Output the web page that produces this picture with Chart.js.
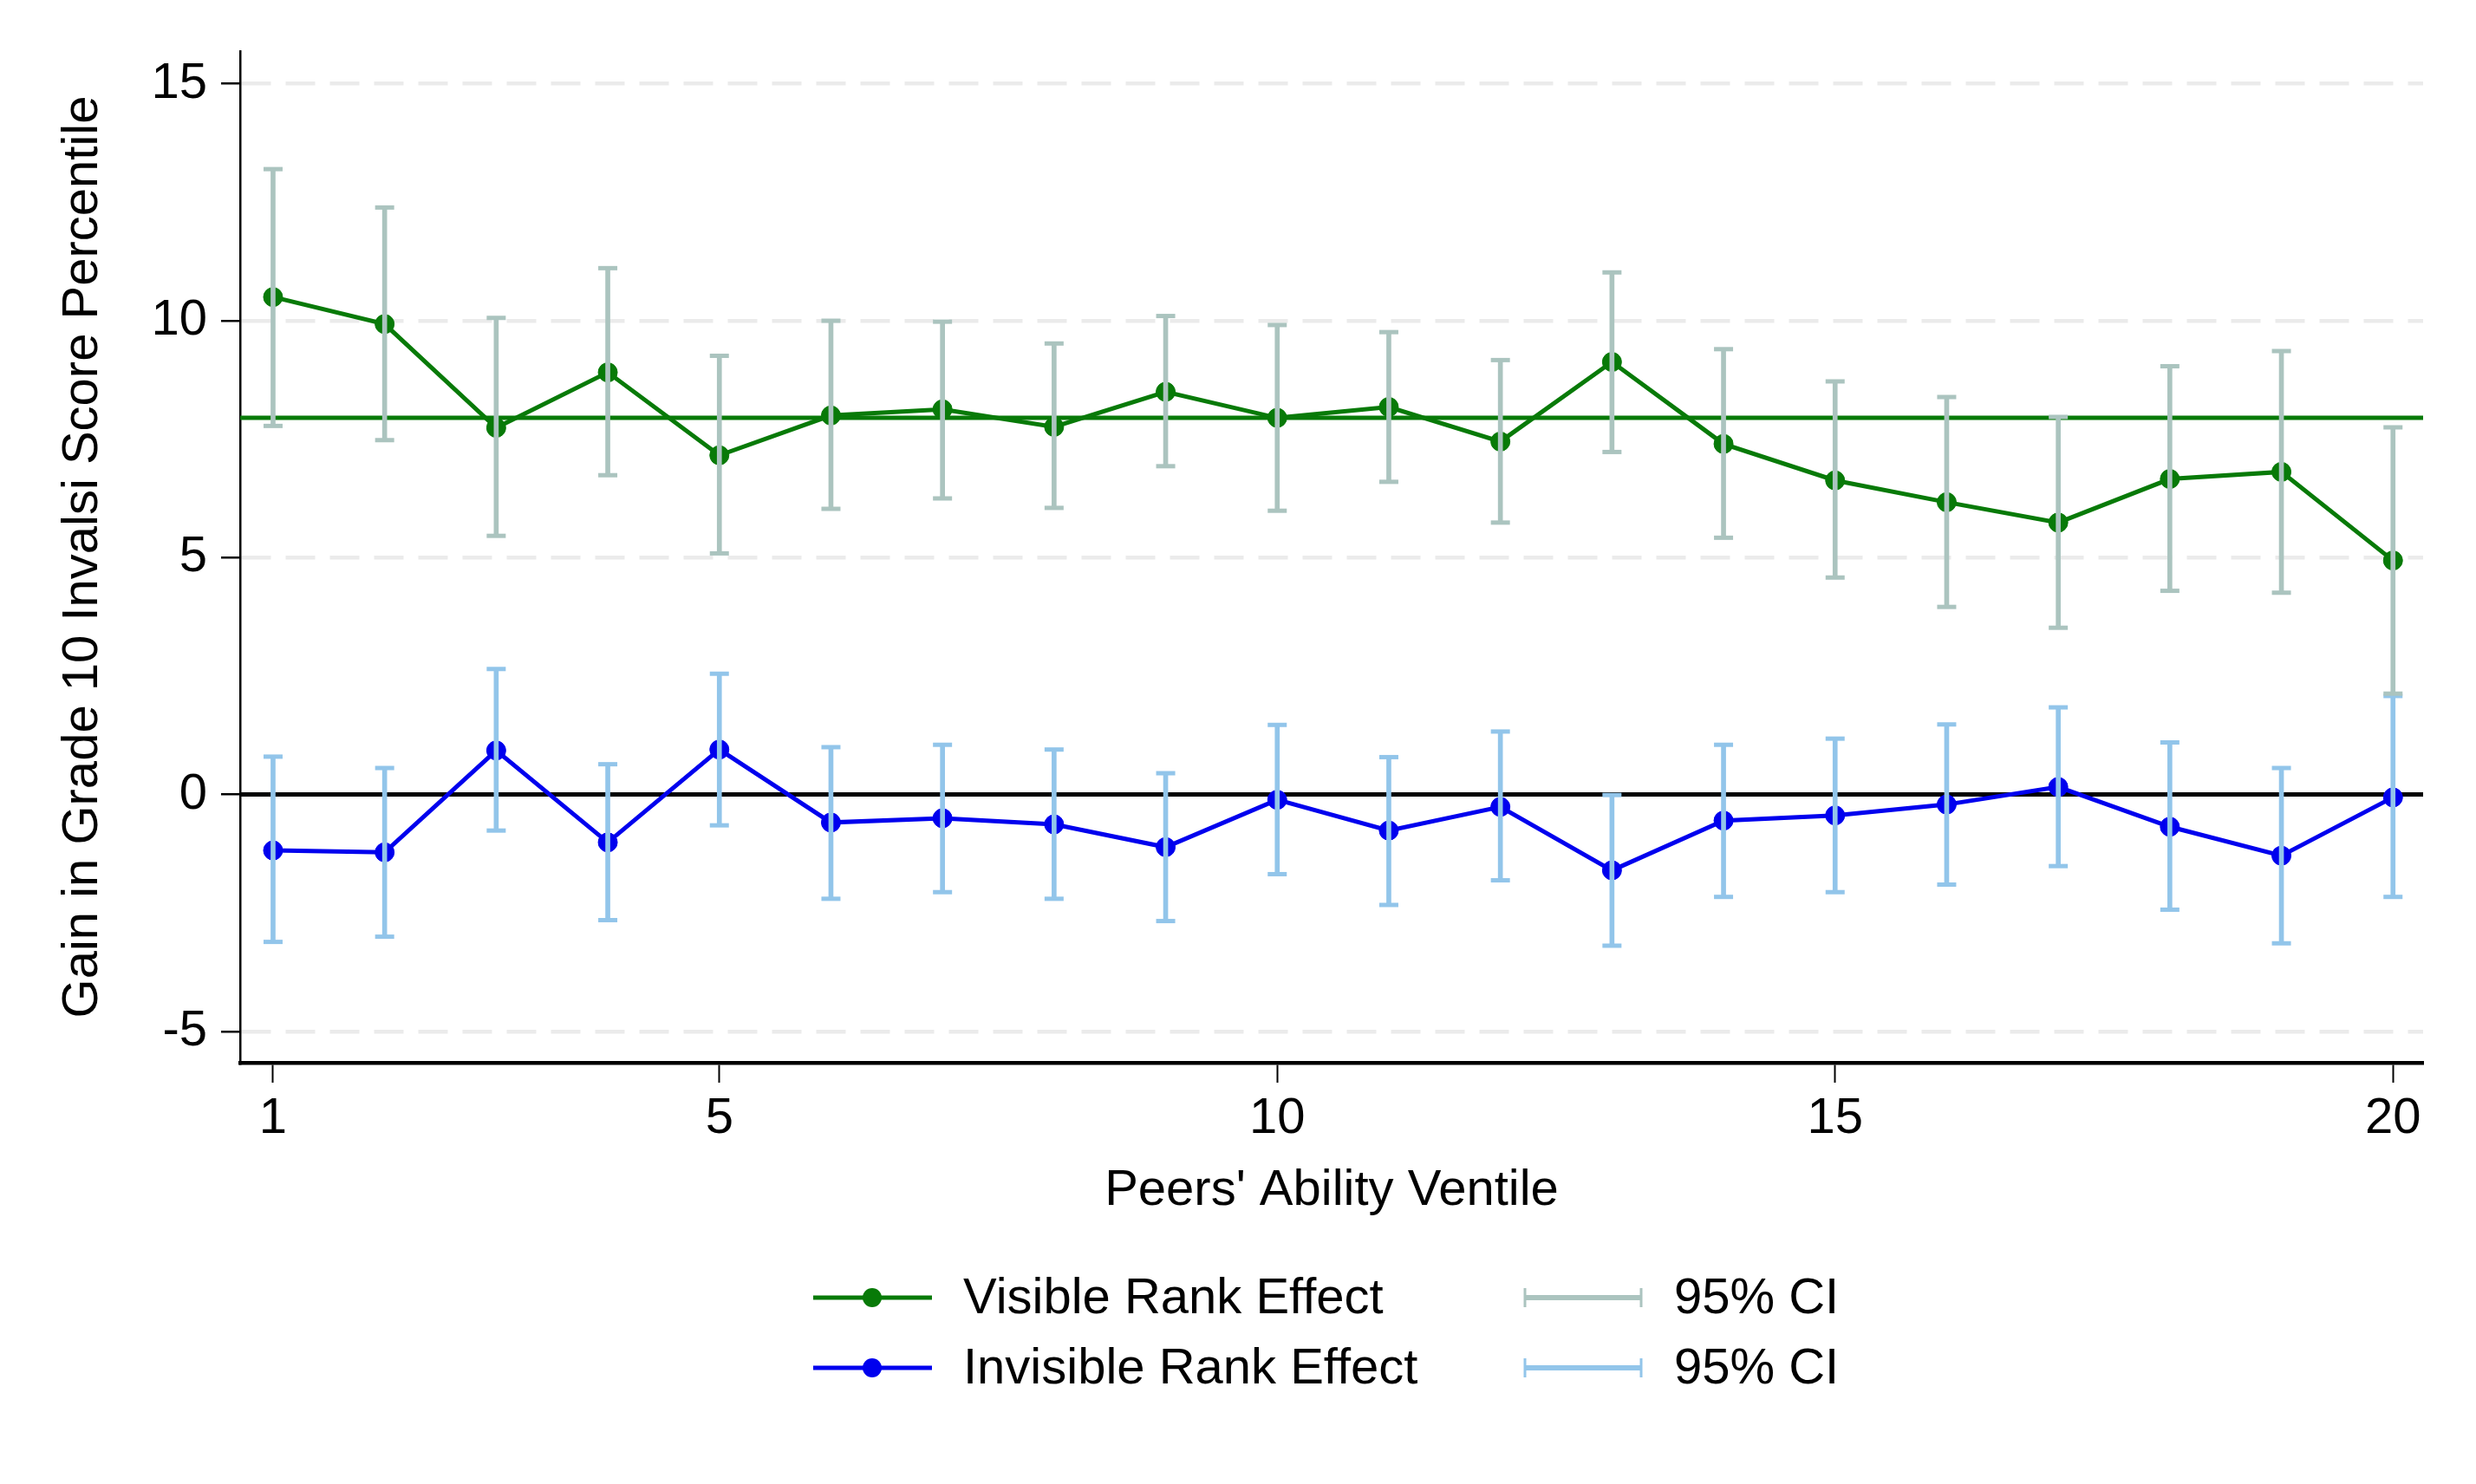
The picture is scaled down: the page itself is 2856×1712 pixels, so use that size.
<!DOCTYPE html>
<html>
<head>
<meta charset="utf-8">
<script src="https://cdn.jsdelivr.net/npm/chart.js@4/dist/chart.umd.min.js"></script>
<style>
  html, body { margin: 0; padding: 0; background: #fff; }
  #wrap { width: 2856px; height: 1712px; }
</style>
</head>
<body>
<div id="wrap"><canvas id="chart" width="2856" height="1712"></canvas></div>
<script>
// Data
const ventiles = [1,2,3,4,5,6,7,8,9,10,11,12,13,14,15,16,17,18,19,20];

const visibleEffect = [10.50, 9.93, 7.74, 8.91, 7.16, 8.00, 8.13, 7.76, 8.50, 7.95,
                       8.18, 7.45, 9.13, 7.40, 6.63, 6.17, 5.74, 6.66, 6.81, 4.94];
const visibleLow    = [7.78, 7.48, 5.46, 6.74, 5.09, 6.03, 6.25, 6.05, 6.93, 5.99,
                       6.60, 5.74, 7.23, 5.42, 4.58, 3.96, 3.52, 4.30, 4.26, 2.13];
const visibleHigh   = [13.20, 12.39, 10.06, 11.11, 9.26, 10.00, 9.98, 9.52, 10.10, 9.91,
                       9.76, 9.17, 11.02, 9.40, 8.72, 8.39, 7.97, 9.04, 9.36, 7.75];

const invisibleEffect = [-1.18, -1.22, 0.93, -1.01, 0.95, -0.59, -0.50, -0.63, -1.11, -0.11,
                         -0.76, -0.26, -1.60, -0.55, -0.44, -0.21, 0.16, -0.68, -1.29, -0.06];
const invisibleLow    = [-3.11, -3.00, -0.76, -2.65, -0.65, -2.20, -2.06, -2.20, -2.67, -1.68,
                         -2.33, -1.81, -3.19, -2.16, -2.06, -1.90, -1.51, -2.43, -3.14, -2.16];
const invisibleHigh   = [0.80, 0.56, 2.65, 0.64, 2.55, 1.00, 1.05, 0.95, 0.45, 1.47,
                         0.79, 1.33, -0.01, 1.05, 1.18, 1.48, 1.84, 1.10, 0.56, 2.08];

const visibleMean = 7.95;
const zeroLine = 0;

const xTicks = [1, 5, 10, 15, 20];
const yTicks = [-5, 0, 5, 10, 15];
const xRange = [0.705, 20.27];
const yRange = [-5.66, 15.69];

const legendLabels = ['Visible Rank Effect', 'Invisible Rank Effect', '95% CI', '95% CI'];

// colours
const GREEN = '#087a08';
const BLUE = '#0000ee';
const CI_GREEN = '#abc4bf';
const CI_BLUE = '#92c5ea';
const FONT = "'Liberation Sans', Arial, Helvetica, sans-serif";

const pts = (vals) => ventiles.map((x, i) => ({x: x, y: vals[i]}));
const ciBars = (lo, hi) => ventiles.map((x, i) => ({x: x, y: [lo[i], hi[i]]}));
const ciCaps = (lo, hi) => ventiles.map((x, i) => ({x: x, y: lo[i]}))
                                   .concat(ventiles.map((x, i) => ({x: x, y: hi[i]})));
const hLine = (v) => [{x: xRange[0], y: v}, {x: xRange[1], y: v}];

// legend drawn stata-style in two columns under the x title
const stataLegend = {
  id: 'stataLegend',
  afterDraw(chart) {
    const ctx = chart.ctx;
    const rows = [1497, 1578];
    ctx.save();
    ctx.font = '58px ' + FONT;
    ctx.textBaseline = 'middle';
    ctx.fillStyle = '#000';

    // first column: connected lines with marker
    [[GREEN, legendLabels[0]], [BLUE, legendLabels[1]]].forEach((it, r) => {
      const y = rows[r];
      ctx.strokeStyle = it[0];
      ctx.lineWidth = 5;
      ctx.beginPath(); ctx.moveTo(938, y); ctx.lineTo(1075, y); ctx.stroke();
      ctx.fillStyle = it[0];
      ctx.beginPath(); ctx.arc(1006, y, 11, 0, Math.PI * 2); ctx.fill();
      ctx.fillStyle = '#000';
      ctx.fillText(it[1], 1111, y + 2);
    });

    // second column: capped range symbols
    [[CI_GREEN, legendLabels[2]], [CI_BLUE, legendLabels[3]]].forEach((it, r) => {
      const y = rows[r];
      ctx.strokeStyle = it[0];
      ctx.lineWidth = 6;
      ctx.beginPath(); ctx.moveTo(1758, y); ctx.lineTo(1894, y); ctx.stroke();
      ctx.lineWidth = 3;
      ctx.beginPath();
      ctx.moveTo(1759, y - 11); ctx.lineTo(1759, y + 11);
      ctx.moveTo(1893, y - 11); ctx.lineTo(1893, y + 11);
      ctx.stroke();
      ctx.fillStyle = '#000';
      ctx.fillText(it[1], 1931, y + 2);
    });
    ctx.restore();
  }
};

const chart = new Chart(document.getElementById('chart'), {
  type: 'line',
  data: {
    datasets: [
      { type: 'bar', data: ciBars(visibleLow, visibleHigh), backgroundColor: CI_GREEN,
        barThickness: 5, grouped: false, order: 0 },
      { type: 'scatter', data: ciCaps(visibleLow, visibleHigh), pointStyle: 'line',
        pointRadius: 11, pointBorderWidth: 5, pointBorderColor: CI_GREEN, order: 0 },
      { type: 'bar', data: ciBars(invisibleLow, invisibleHigh), backgroundColor: CI_BLUE,
        barThickness: 5, grouped: false, order: 0 },
      { type: 'scatter', data: ciCaps(invisibleLow, invisibleHigh), pointStyle: 'line',
        pointRadius: 11, pointBorderWidth: 5, pointBorderColor: CI_BLUE, order: 0 },
      { label: legendLabels[0], data: pts(visibleEffect), borderColor: GREEN, borderWidth: 5,
        pointRadius: 11, pointBackgroundColor: GREEN, pointBorderColor: GREEN,
        pointBorderWidth: 1, tension: 0, order: 1 },
      { label: legendLabels[1], data: pts(invisibleEffect), borderColor: BLUE, borderWidth: 5,
        pointRadius: 11, pointBackgroundColor: BLUE, pointBorderColor: BLUE,
        pointBorderWidth: 1, tension: 0, order: 1 },
      { data: hLine(visibleMean), borderColor: GREEN, borderWidth: 5, pointRadius: 0, order: 2 },
      { data: hLine(zeroLine), borderColor: '#000', borderWidth: 5, pointRadius: 0, order: 2 }
    ]
  },
  options: {
    responsive: false,
    animation: false,
    layout: { padding: { left: 0, top: 59, right: 61, bottom: 303 } },
    plugins: { legend: { display: false }, tooltip: { enabled: false } },
    scales: {
      x: {
        type: 'linear',
        min: xRange[0], max: xRange[1],
        offset: false,
        afterBuildTicks: (s) => { s.ticks = xTicks.map(v => ({value: v})); },
        afterFit: (s) => { s.height = 183; },
        grid: { display: true, drawOnChartArea: false, drawTicks: true, offset: false,
                tickLength: 23, tickColor: '#000', tickWidth: 2, tickBorderDash: [] },
        border: { display: true, color: '#000', width: 4.5 },
        ticks: { color: '#000', padding: 7, maxRotation: 0, autoSkip: false,
                 font: { size: 58, family: FONT } },
        title: { display: true, text: "Peers' Ability Ventile", color: '#000',
                 padding: { top: 0, bottom: 0 }, font: { size: 58, family: FONT } }
      },
      y: {
        type: 'linear',
        min: yRange[0], max: yRange[1],
        afterBuildTicks: (s) => { s.ticks = yTicks.map(v => ({value: v})); },
        afterFit: (s) => { s.width = 277; },
        grid: {
          color: (c) => (c.tick && c.tick.value === 0) ? 'rgba(0,0,0,0)' : '#ebebeb',
          lineWidth: 4.5,
          tickLength: 22, tickColor: '#000', tickWidth: 2.5, tickBorderDash: []
        },
        border: { display: true, color: '#000', width: 2.5, dash: [34, 17] },
        ticks: { color: '#000', padding: 16, font: { size: 58, family: FONT } },
        title: { display: true, text: 'Gain in Grade 10 Invalsi Score Percentile', color: '#000',
                 padding: { top: 61, bottom: 0 }, font: { size: 58, family: FONT } }
      }
    }
  },
  plugins: [stataLegend]
});
</script>
</body>
</html>
